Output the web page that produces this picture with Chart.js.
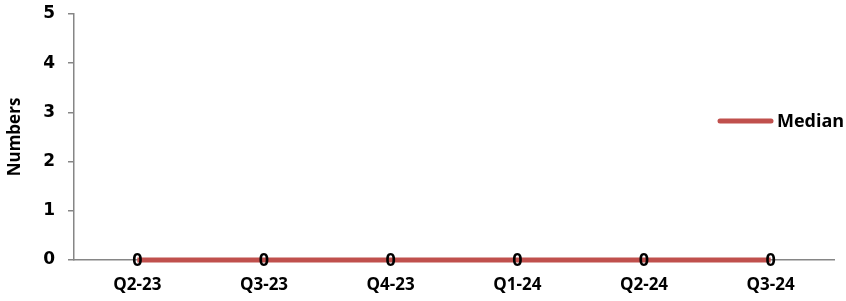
<!DOCTYPE html>
<html><head><meta charset="utf-8">
<script src="https://cdn.jsdelivr.net/npm/chart.js@4/dist/chart.umd.min.js"></script>
<style>html,body{margin:0;padding:0;background:#fff}#wrap{width:846px;height:301px}</style>
</head><body><div id="wrap"><canvas id="c"></canvas></div>
<script>
const categories = ["Q2-23","Q3-23","Q4-23","Q1-24","Q2-24","Q3-24"];
const medianValues = [0,0,0,0,0,0];
const yTicks = [0,1,2,3,4,5];
const seriesLabel = "Median";
const yTitle = "Numbers";

const pointLabels = {
  id:'pointLabels',
  afterDatasetsDraw(chart){
    const ctx = chart.ctx;
    ctx.save();
    ctx.font = "bold 18px 'Open Sans'";
    ctx.fillStyle = "#000";
    ctx.textAlign = "center";
    ctx.textBaseline = "middle";
    chart.getDatasetMeta(0).data.forEach((p,i)=>{
      ctx.fillText(String(chart.data.datasets[0].data[i]), p.x, p.y+1);
    });
    ctx.restore();
  }
};
const customLegend = {
  id:'customLegend',
  afterDraw(chart){
    const ctx = chart.ctx;
    const ds = chart.data.datasets[0];
    ctx.save();
    ctx.strokeStyle = ds.borderColor;
    ctx.lineWidth = 5;
    ctx.lineCap = 'round';
    ctx.beginPath(); ctx.moveTo(720,121); ctx.lineTo(771,121); ctx.stroke();
    ctx.font = "bold 18px 'Open Sans'";
    ctx.fillStyle = "#000";
    ctx.textBaseline = "middle";
    ctx.fillText(ds.label, 777, 122);
    ctx.restore();
  }
};

new Chart(document.getElementById('c'), {
  type:'line',
  data:{labels:categories, datasets:[{label:seriesLabel, data:medianValues, borderColor:'#C0504D', backgroundColor:'#C0504D', borderWidth:5, pointRadius:0, tension:0, borderCapStyle:'butt', clip:false}]},
  options:{
    responsive:true, maintainAspectRatio:false, animation:false,
    layout:{padding:{top:14,right:12,bottom:0,left:0}},
    plugins:{legend:{display:false}, tooltip:{enabled:false}},
    scales:{
      x:{offset:true,
         afterFit(s){ s.height = 41; s.paddingLeft = 0; s.paddingRight = 0; },
         grid:{display:false, drawTicks:false},
         border:{color:'#868686', width:1.5},
         ticks:{color:'#000', padding:15, font:{family:'Open Sans', weight:'bold', size:17}}},
      y:{min:0,max:5,
         afterFit(s){ s.width = 74; s.paddingTop = 0; s.paddingBottom = 0; },
         afterBuildTicks(s){ s.ticks = yTicks.map(v=>({value:v})); },
         grid:{drawOnChartArea:false, drawTicks:true, tickLength:6, color:'#868686', lineWidth:1.5},
         border:{color:'#868686', width:1.5},
         ticks:{color:'#000', padding:13, font:{family:'DejaVu Sans', weight:'bold', size:17}},
         title:{display:true, text:yTitle, color:'#000', padding:{top:5,bottom:0}, font:{family:'Open Sans', weight:'bold', size:17}}}
    }
  },
  plugins:[pointLabels, customLegend]
});
</script></body></html>
